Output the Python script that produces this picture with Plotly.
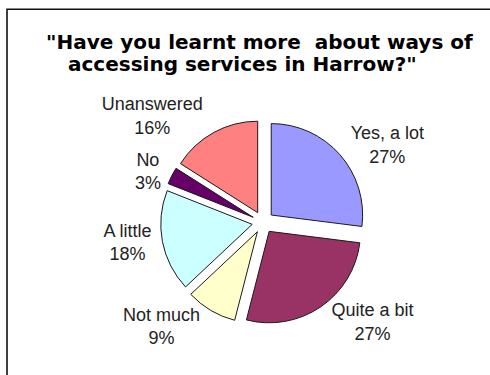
import plotly.graph_objects as go

# Survey responses, clockwise from 12 o'clock
labels = ["Yes, a lot", "Quite a bit", "Not much", "A little", "No", "Unanswered"]
percents = [27, 27, 9, 18, 3, 16]
colors = ["#9999FF", "#993366", "#FFFFCC", "#CCFFFF", "#660066", "#FF8080"]

title_lines = ['"Have you learnt more \u00a0about ways of', 'accessing services in Harrow?"']

TITLE_FONT = "DejaVu Sans, Verdana, sans-serif"
LABEL_FONT = "Liberation Sans, Arial, sans-serif"

fig = go.Figure(
    go.Pie(
        labels=labels,
        values=percents,
        sort=False,
        direction="clockwise",
        rotation=0,
        marker=dict(colors=colors, line=dict(color="#1a1a1a", width=1)),
        pull=[0.12] * len(percents),
        texttemplate="%{label}<br>%{value}%",
        textposition="outside",
        textfont=dict(family=LABEL_FONT, size=18, color="#222222"),
        showlegend=False,
        hoverinfo="label+percent",
        domain=dict(x=[0.3214, 0.752], y=[0.108, 0.6707]),
    )
)

# Two-line heading, each line placed on its own
title_annots = [
    dict(text=f"<b>{title_lines[0]}</b>", x=259 / 490, y=1 - 43 / 375),
    dict(text=f"<b>{title_lines[1]}</b>", x=242 / 490, y=1 - 66 / 375),
]
for a in title_annots:
    a.update(
        xref="paper", yref="paper", xanchor="center", yanchor="middle",
        showarrow=False,
        font=dict(family=TITLE_FONT, size=20, color="#000000"),
    )

fig.update_layout(
    width=490,
    height=375,
    margin=dict(l=0, r=0, t=0, b=0),
    paper_bgcolor="white",
    plot_bgcolor="white",
    annotations=title_annots,
    shapes=[
        dict(
            type="rect",
            xref="paper",
            yref="paper",
            x0=7 / 490,
            x1=1.05,
            y0=-0.05,
            y1=1 - 9.5 / 375,
            line=dict(color="#111111", width=1.6),
            fillcolor="rgba(0,0,0,0)",
        )
    ],
)

fig.write_html("out.html")
